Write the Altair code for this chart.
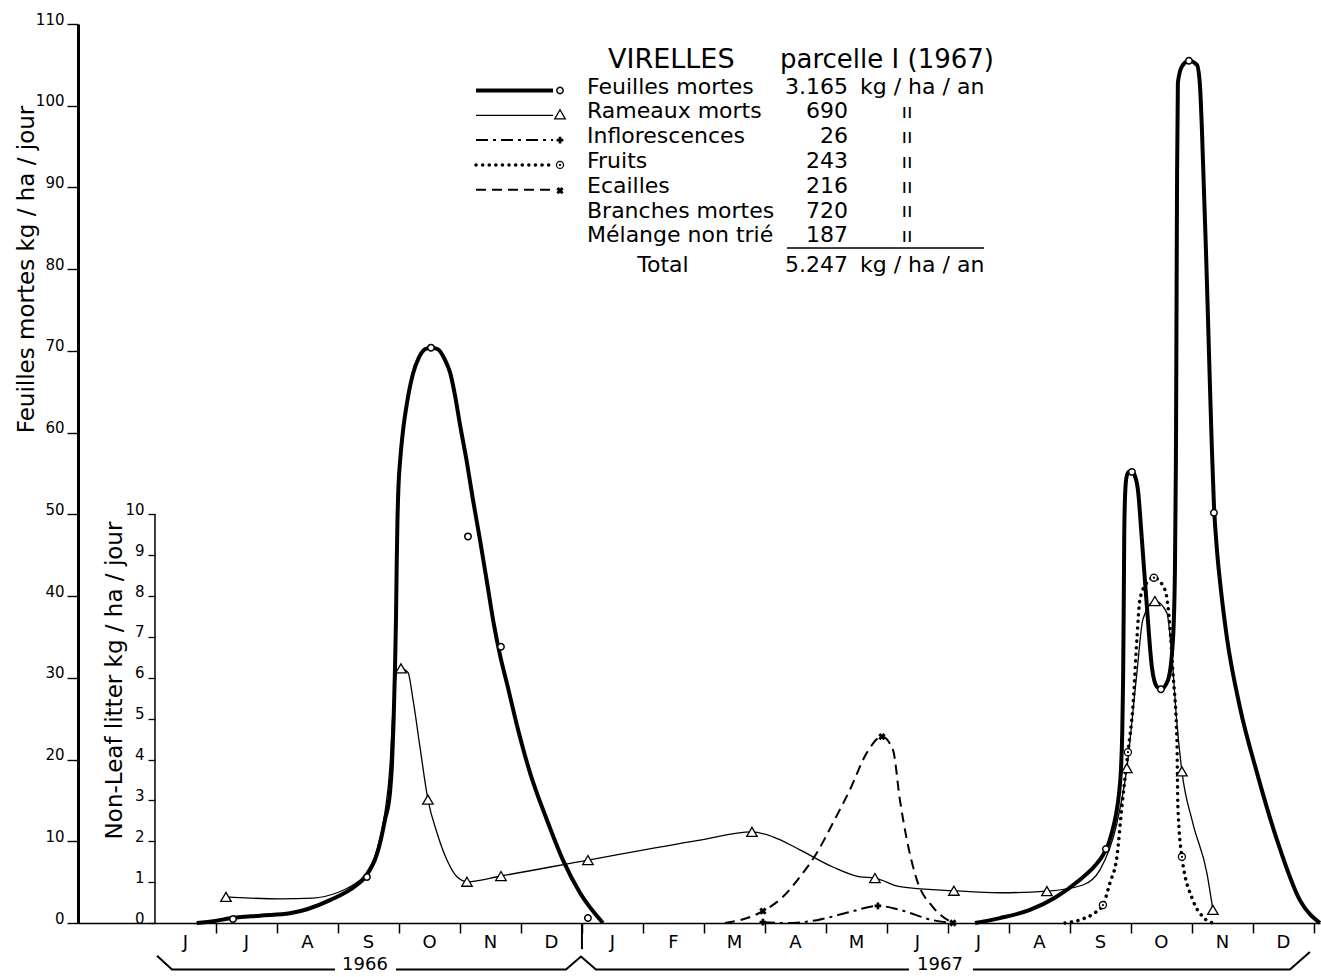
import altair as alt
import pandas as pd

FONT = "DejaVu Sans"

# ---------------- data (x = months since 1 June 1966) ----------------
MONTHS = ["J", "J", "A", "S", "O", "N", "D", "J", "F", "M", "A", "M",
          "J", "J", "A", "S", "O", "N", "D"]
YEARS = ["1966", "1967"]
YEAR_LABEL_M = [3.443, 12.869]
YEAR_BOUNDARY = [7]

# Feuilles mortes, kg/ha/jour (outer axis)
LEAF_1966_M = [0.684, 0.984, 1.230, 1.721, 2.213, 2.869, 3.307, 3.454, 3.689, 3.770,
               3.852, 3.885, 3.910, 3.934, 3.951, 3.964, 3.975, 3.992, 4.025, 4.066,
               4.131, 4.230, 4.328, 4.426, 4.525, 4.639, 4.754, 4.836, 4.918, 5.000,
               5.115, 5.213, 5.328, 5.443, 5.557, 5.656, 5.787, 5.934, 6.148, 6.426,
               6.689, 6.967, 7.344]
LEAF_1966_V = [0.0, 0.25, 0.57, 0.9, 1.19, 2.8, 4.65, 5.67, 9.76, 12.6,
               15.9, 19.3, 24.2, 30.9, 37.1, 44.4, 49.1, 53.4, 57.1, 60.2,
               63.6, 67.2, 69.2, 70.2, 70.4, 70.2, 68.9, 67.4, 64.6, 61.0,
               56.3, 51.8, 46.9, 41.7, 36.5, 32.8, 28.8, 24.2, 18.4, 12.6,
               7.7, 3.7, 0.0]
LEAF_1967_M = [13.443, 13.852, 14.344, 14.754, 15.164, 15.410, 15.541, 15.623, 15.689, 15.754,
               15.803, 15.836, 15.857, 15.872, 15.882, 15.890, 15.902, 15.926, 15.967, 16.016,
               16.066, 16.115, 16.180, 16.262, 16.344, 16.426, 16.492, 16.607, 16.689, 16.721,
               16.738, 16.748, 16.757, 16.770, 16.836, 16.951, 17.082, 17.131, 17.164, 17.197,
               17.230, 17.262, 17.295, 17.328, 17.361, 17.410, 17.475, 17.574, 17.787, 18.066,
               18.393, 18.770, 19.098]
LEAF_1967_V = [0.0, 0.6, 1.6, 3.1, 5.3, 7.0, 8.3, 9.5, 11.1, 13.2,
               15.7, 18.7, 23.0, 29.8, 38.3, 46.9, 51.8, 54.5, 55.2, 55.2,
               54.7, 53.0, 46.9, 38.7, 31.3, 28.9, 28.6, 29.7, 34.6, 42.8,
               56.7, 75.4, 91.8, 102.8, 104.8, 105.5, 105.0, 102.6, 97.1, 89.7,
               82.4, 74.4, 65.9, 57.9, 51.2, 45.7, 40.8, 34.9, 26.4, 18.4,
               10.2, 2.8, 0.0]
LEAF_PTS_M = [1.279, 3.475, 4.525, 5.131, 5.672, 7.098, 15.590, 16.016, 16.492, 16.951, 17.361]
LEAF_PTS_V = [0.49, 5.63, 70.4, 47.3, 33.8, 0.61, 9.06, 55.2, 28.6, 105.5, 50.2]

# Non-leaf litter, kg/ha/jour (inner axis)
TWIG_M = [1.164, 1.557, 2.049, 2.590, 2.984, 3.246, 3.443, 3.639, 3.770, 3.852,
          3.902, 3.967, 4.033, 4.148, 4.230, 4.344, 4.475, 4.623, 4.787, 4.951,
          5.115, 5.672, 7.098, 8.934, 9.787, 10.131, 10.574, 11.115, 11.557, 11.803,
          12.213, 13.098, 13.852, 14.623, 15.213, 15.492, 15.770, 15.934, 16.098, 16.197,
          16.393, 16.590, 16.672, 16.754, 16.836, 17.016, 17.246, 17.344]
TWIG_V = [0.64, 0.61, 0.59, 0.61, 0.74, 0.93, 1.18, 1.79, 2.70, 3.82,
          5.22, 6.13, 6.23, 6.13, 5.47, 4.31, 3.02, 2.21, 1.54, 1.13,
          1.01, 1.15, 1.54, 2.03, 2.23, 2.11, 1.79, 1.37, 1.13, 1.10,
          0.89, 0.79, 0.74, 0.78, 0.93, 1.30, 2.44, 3.79, 6.12, 7.43,
          7.88, 7.59, 6.53, 4.89, 3.71, 2.44, 1.22, 0.32]
TWIG_PTS_M = [1.164, 4.033, 4.475, 5.115, 5.672, 7.098, 9.787, 11.803, 13.098, 14.623,
              15.934, 16.393, 16.836, 17.344]
TWIG_PTS_V = [0.64, 6.23, 3.02, 1.01, 1.15, 1.54, 2.23, 1.10, 0.79, 0.78,
              3.79, 7.88, 3.71, 0.32]

INFL_M = [9.967, 10.361, 10.852, 11.393, 11.852, 12.213, 12.754, 13.082]
INFL_V = [0.02, 0.0, 0.07, 0.27, 0.42, 0.32, 0.07, 0.0]
INFL_PTS_M = [9.967, 11.852]
INFL_PTS_V = [0.02, 0.42]

FRUIT_M = [14.918, 15.213, 15.410, 15.541, 15.656, 15.770, 15.852, 15.951, 16.033, 16.098,
           16.148, 16.262, 16.377, 16.557, 16.639, 16.689, 16.754, 16.770, 16.836, 17.016,
           17.180, 17.344]
FRUIT_V = [0.0, 0.1, 0.25, 0.44, 0.98, 1.62, 2.85, 4.18, 5.30, 6.94,
           7.92, 8.33, 8.45, 8.16, 7.26, 6.12, 4.49, 2.85, 1.62, 0.56,
           0.15, 0.0]
FRUIT_PTS_M = [15.541, 15.951, 16.377, 16.836]
FRUIT_PTS_V = [0.44, 4.18, 8.45, 1.62]

ECAIL_M = [9.344, 9.590, 9.967, 10.295, 10.574, 10.852, 11.115, 11.393, 11.672, 11.918,
           12.098, 12.213, 12.328, 12.492, 12.754, 13.082]
ECAIL_V = [0.0, 0.07, 0.29, 0.64, 1.13, 1.72, 2.45, 3.26, 4.17, 4.56,
           4.24, 3.01, 2.03, 1.05, 0.39, 0.0]
ECAIL_PTS_M = [9.967, 11.918, 13.082]
ECAIL_PTS_V = [0.29, 4.56, 0.0]

# year bracket under the month labels (outer-axis units, below zero)
BRACKET_M = [0.033, 0.279, 2.951, 3.951, 6.738, 6.984, 7.230, 12.361, 13.410, 18.607, 18.934]
BRACKET_V = [-4.0, -5.7, -5.7, -5.7, -5.7, -4.1, -5.7, -5.7, -5.7, -5.7, -3.55]
BRACKET_SEG = ["a", "a", "a", "b", "b", "b", "b", "b", "c", "c", "c"]

# legend table
TITLE_A = "VIRELLES"
TITLE_B = "parcelle I (1967)"
LEGEND_NAMES = ["Feuilles mortes", "Rameaux morts", "Inflorescences", "Fruits",
                "Ecailles", "Branches mortes", "Mélange non trié"]
LEGEND_AMOUNTS = ["3.165", "690", "26", "243", "216", "720", "187"]
UNIT = "kg / ha / an"
DITTO = "ıı"
TOTAL_LABEL = "Total"
TOTAL_AMOUNT = "5.247"

# ---------------- frames ----------------
def frame(ms, vs, **extra):
    d = pd.DataFrame({"m": ms, "v": vs})
    for k, val in extra.items():
        d[k] = val
    return d

leaf_df = pd.concat([frame(LEAF_1966_M, LEAF_1966_V, seg="a"),
                     frame(LEAF_1967_M, LEAF_1967_V, seg="b")])
month_df = pd.DataFrame({"m": [i + 0.5 for i in range(len(MONTHS))],
                         "v": [-2.45] * len(MONTHS), "label": MONTHS})
year_df = pd.DataFrame({"m": YEAR_LABEL_M, "v": [-5.15, -5.15], "label": YEARS})
ytick_df = pd.DataFrame({"m": YEAR_BOUNDARY, "v": [0.0], "v2": [-3.2]})
bracket_df = pd.DataFrame({"m": BRACKET_M, "v": BRACKET_V, "seg": BRACKET_SEG})
inner_axis_df = pd.DataFrame({"m": [0.0], "v": [0.0], "v2": [10.0]})
one = pd.DataFrame({"a": [0]})

# ---------------- encodings ----------------
X = alt.X("m:Q", scale=alt.Scale(domain=[-1.262, 19.1], nice=False, zero=False),
          axis=alt.Axis(values=list(range(1, 20)), labels=False, title=None, grid=False,
                        tickSize=10, tickWidth=1.5, domainWidth=1.6,
                        domainColor="black", tickColor="black"))

Y_OUT = alt.Y("v:Q", scale=alt.Scale(domain=[0, 110], nice=False, zero=False),
              axis=alt.Axis(values=list(range(0, 111, 10)), grid=False, tickSize=11,
                            tickWidth=1.4, domainWidth=3, domainColor="black",
                            tickColor="black", labelFont=FONT, labelFontSize=15,
                            labelPadding=3, labelBaseline="alphabetic", labelColor="black",
                            title="Feuilles mortes   kg / ha / jour", titleFont=FONT,
                            titleFontSize=23, titleFontWeight="normal", titleAngle=270,
                            titleX=-52, titleY=245, titleAlign="center",
                            titleBaseline="middle", titleColor="black"))

Y_IN = alt.Y("v:Q", scale=alt.Scale(domain=[0, 22], nice=False, zero=False),
             axis=alt.Axis(orient="left", offset=-77, values=list(range(0, 11)),
                           domain=False, grid=False, tickSize=7, tickWidth=1.3,
                           tickColor="black", labelFont=FONT, labelFontSize=15,
                           labelPadding=4, labelBaseline="alphabetic", labelColor="black",
                           title="Non-Leaf litter    kg / ha / jour", titleFont=FONT,
                           titleFontSize=23, titleFontWeight="normal", titleAngle=270,
                           titleX=-41, titleY=656, titleAlign="center",
                           titleBaseline="middle", titleColor="black"))

def px(x):
    return x - 78

def py(y):
    return y - 24

# ---------------- outer (leaf) group ----------------
leaf_line = alt.Chart(leaf_df).mark_line(color="black", strokeWidth=4, interpolate="monotone",
                                         strokeJoin="round").encode(x=X, y=Y_OUT, detail="seg:N")
leaf_pts = alt.Chart(frame(LEAF_PTS_M, LEAF_PTS_V)).mark_point(
    shape="circle", size=42, filled=True, fill="white", stroke="black", strokeWidth=1.5,
    opacity=1).encode(x=X, y=Y_OUT)
year_tick = alt.Chart(ytick_df).mark_rule(color="black", strokeWidth=2).encode(
    x=X, y=Y_OUT, y2="v2:Q")
bracket = alt.Chart(bracket_df).mark_line(color="black", strokeWidth=2).encode(
    x=X, y=Y_OUT, detail="seg:N")
month_text = alt.Chart(month_df).mark_text(font=FONT, fontSize=18, baseline="middle",
                                           color="black").encode(x=X, y=Y_OUT, text="label:N")
year_text = alt.Chart(year_df).mark_text(font=FONT, fontSize=18, baseline="middle",
                                         color="black").encode(x=X, y=Y_OUT, text="label:N")

# legend block (drawn in pixel space)
LEG_BASE = 93.5
LEG_LH = 24.8
LX0, LX1, LMK = 476, 553, 560
rows_y = [LEG_BASE - 3 + i * LEG_LH for i in range(5)]

def leg_text(txt, x, y, align="left", size=22, weight="normal"):
    return alt.Chart(one).mark_text(text=txt, font=FONT, fontSize=size, align=align,
                                    baseline="alphabetic", lineHeight=LEG_LH, color="black",
                                    fontWeight=weight).encode(x=alt.value(px(x)), y=alt.value(py(y)))

def leg_rule(y, width, dash=None, cap="butt"):
    kw = dict(color="black", strokeWidth=width, strokeCap=cap)
    if dash is not None:
        kw["strokeDash"] = dash
    return alt.Chart(one).mark_rule(**kw).encode(x=alt.value(px(LX0)), x2=alt.value(px(LX1)),
                                                 y=alt.value(py(y)))

def leg_point(y, **kw):
    return alt.Chart(one).mark_point(opacity=1, **kw).encode(x=alt.value(px(LMK)), y=alt.value(py(y)))

legend_layers = [
    leg_text(TITLE_A, 608, 68, size=27),
    leg_text(TITLE_B, 780, 68, size=26),
    leg_text(LEGEND_NAMES, 587, LEG_BASE),
    leg_text(LEGEND_AMOUNTS, 848, LEG_BASE, align="right"),
    leg_text(UNIT, 860, LEG_BASE),
    leg_text([DITTO] * 6, 907, LEG_BASE + LEG_LH, align="center", size=20),
    leg_text(TOTAL_LABEL, 663, 272, align="center"),
    leg_text(TOTAL_AMOUNT, 848, 272, align="right"),
    leg_text(UNIT, 860, 272),
    alt.Chart(one).mark_rule(color="black", strokeWidth=1.5).encode(
        x=alt.value(px(787)), x2=alt.value(px(984)), y=alt.value(py(248))),
    leg_rule(rows_y[0], 4),
    leg_rule(rows_y[1], 1.3),
    leg_rule(rows_y[2], 2, dash=[12, 5, 3, 5]),
    leg_rule(rows_y[3], 3.5, dash=[0.1, 6.5], cap="round"),
    leg_rule(rows_y[4], 2, dash=[10, 6]),
    leg_point(rows_y[0], shape="circle", size=40, filled=True, fill="white", stroke="black", strokeWidth=1.5),
    leg_point(rows_y[1] - 1, shape="triangle-up", size=110, filled=True, fill="white", stroke="black", strokeWidth=1.3),
    leg_point(rows_y[2], shape="cross", size=45, filled=True, fill="black", strokeWidth=0),
    leg_point(rows_y[3], shape="circle", size=50, filled=True, fill="white", stroke="black", strokeWidth=1.3),
    leg_point(rows_y[3], shape="circle", size=5, filled=True, fill="black", strokeWidth=0),
    leg_point(rows_y[4] + 1, shape="cross", angle=45, size=55, filled=True, fill="black", strokeWidth=0),
]

outer = alt.layer(leaf_line, year_tick, bracket, month_text, year_text, leaf_pts, *legend_layers)

# ---------------- inner (non-leaf) group ----------------
inner_axis = alt.Chart(inner_axis_df).mark_rule(color="black", strokeWidth=1.5).encode(
    x=X, y=Y_IN, y2="v2:Q")
twig_line = alt.Chart(frame(TWIG_M, TWIG_V)).mark_line(
    color="black", strokeWidth=1.3, interpolate="monotone").encode(x=X, y=Y_IN)
infl_line = alt.Chart(frame(INFL_M, INFL_V)).mark_line(
    color="black", strokeWidth=2, strokeDash=[12, 5, 3, 5], interpolate="monotone").encode(x=X, y=Y_IN)
fruit_line = alt.Chart(frame(FRUIT_M, FRUIT_V)).mark_line(
    color="black", strokeWidth=3.5, strokeDash=[0.1, 6.5], strokeCap="round",
    interpolate="monotone").encode(x=X, y=Y_IN)
ecail_line = alt.Chart(frame(ECAIL_M, ECAIL_V)).mark_line(
    color="black", strokeWidth=2, strokeDash=[10, 6], interpolate="monotone").encode(x=X, y=Y_IN)

twig_pts = alt.Chart(frame(TWIG_PTS_M, TWIG_PTS_V)).mark_point(
    shape="triangle-up", size=110, filled=True, fill="white", stroke="black", strokeWidth=1.3,
    opacity=1).encode(x=X, y=Y_IN)
infl_pts = alt.Chart(frame(INFL_PTS_M, INFL_PTS_V)).mark_point(
    shape="cross", size=45, filled=True, fill="black", strokeWidth=0, opacity=1).encode(x=X, y=Y_IN)
fruit_pts = alt.Chart(frame(FRUIT_PTS_M, FRUIT_PTS_V)).mark_point(
    shape="circle", size=50, filled=True, fill="white", stroke="black", strokeWidth=1.3,
    opacity=1).encode(x=X, y=Y_IN)
fruit_dots = alt.Chart(frame(FRUIT_PTS_M, FRUIT_PTS_V)).mark_point(
    shape="circle", size=5, filled=True, fill="black", strokeWidth=0, opacity=1).encode(x=X, y=Y_IN)
ecail_pts = alt.Chart(frame(ECAIL_PTS_M, ECAIL_PTS_V)).mark_point(
    shape="cross", angle=45, size=55, filled=True, fill="black", strokeWidth=0,
    opacity=1).encode(x=X, y=Y_IN)

inner = alt.layer(inner_axis, twig_line, infl_line, fruit_line, ecail_line,
                  twig_pts, infl_pts, fruit_pts, fruit_dots, ecail_pts)

chart = alt.layer(outer, inner).resolve_scale(y="independent").properties(
    width=1242, height=899,
    padding={"left": 78, "top": 24, "right": 1, "bottom": 54},
    autosize=alt.AutoSizeParams(type="none"),
    background="white",
).configure_view(stroke=None)

chart.save("out.html", embed_options={"renderer": "svg", "actions": False})
